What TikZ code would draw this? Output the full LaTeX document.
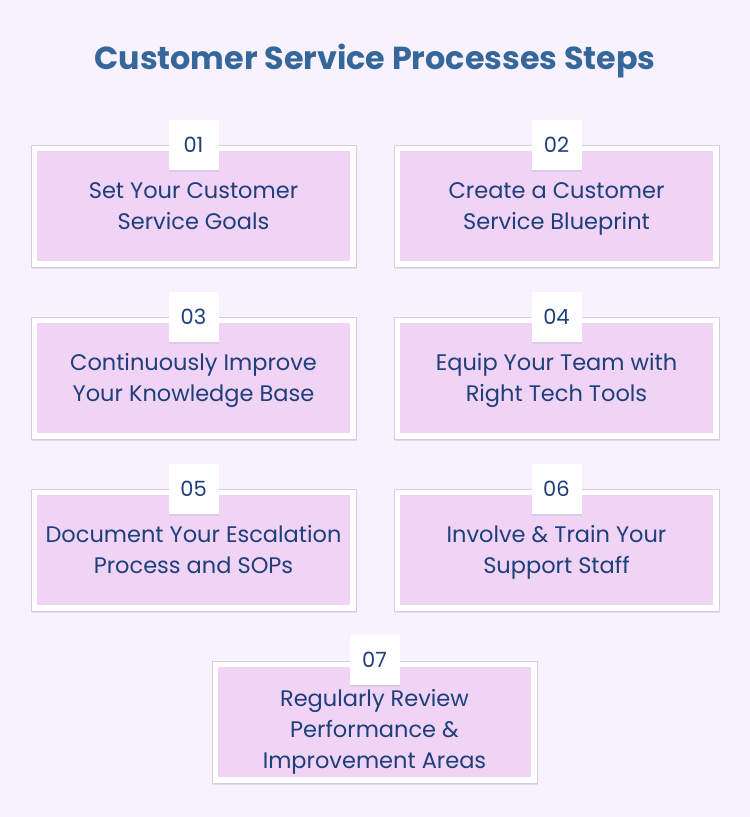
\documentclass[tikz,border=0pt]{standalone}
\usepackage{fontspec}
\setmainfont{Poppins}
\definecolor{bg}{HTML}{F8F2FE}
\definecolor{pinkfill}{HTML}{F0D3F5}
\definecolor{titlec}{HTML}{35679A}
\definecolor{textc}{HTML}{1D3F7A}
\definecolor{shadowc}{HTML}{D8CCE4}
\begin{document}
\begin{tikzpicture}[x=1pt,y=-1pt,
  outerbox/.style={fill=white,draw=shadowc,line width=0.8pt},
  innerbox/.style={fill=pinkfill},
  numbox/.style={fill=white,minimum width=50pt,minimum height=50pt,inner sep=0pt,
    font=\fontsize{21}{24}\selectfont,text=textc},
  label/.style={align=center,text=textc,font=\fontsize{22.5}{31}\selectfont}]
\fill[bg] (0,0) rectangle (750,817);
\useasboundingbox (0,0) rectangle (750,817);
\node[text=titlec,font=\fontsize{31.8}{36}\selectfont\bfseries] (title) at (375,61) {Customer Service Processes Steps};
\foreach \n/\x/\y/\t in {01/31/145/{\strut Set Your Customer\\\strut Service Goals},
                         02/394/145/{\strut Create a Customer\\\strut Service Blueprint},
                         03/31/317/{\strut Continuously Improve\\\strut Your Knowledge Base},
                         04/394/317/{\strut Equip Your Team with\\\strut Right Tech Tools},
                         05/31/489/{\strut Document Your Escalation\\\strut Process and SOPs},
                         06/394/489/{\strut Involve \& Train Your\\\strut Support Staff}}{
  \fill[shadowc!70] (\x+1,\y+2) rectangle (\x+326,\y+124);
  \draw[outerbox] (\x,\y) rectangle (\x+325,\y+122);
  \fill[innerbox] (\x+6,\y+6) rectangle (\x+319,\y+116);
  \node[label] (t\n) at (\x+162.5,\y+63) {\t};
  \fill[shadowc] (\x+138,\y-24) rectangle (\x+188,\y+27);
  \node[numbox] (n\n) at (\x+162.5,\y) {\n};
}
\fill[shadowc!70] (213,663) rectangle (538,785);
\draw[outerbox] (212,661) rectangle (537,783);
\fill[innerbox] (218,667) rectangle (531,777);
\node[label] (t07) at (374.5,731) {\strut Regularly Review\\\strut Performance \&\\\strut Improvement Areas};
\fill[shadowc] (350,637) rectangle (400,687);
\node[numbox] (n07) at (374.5,659.5) {07};
\end{tikzpicture}
\end{document}
